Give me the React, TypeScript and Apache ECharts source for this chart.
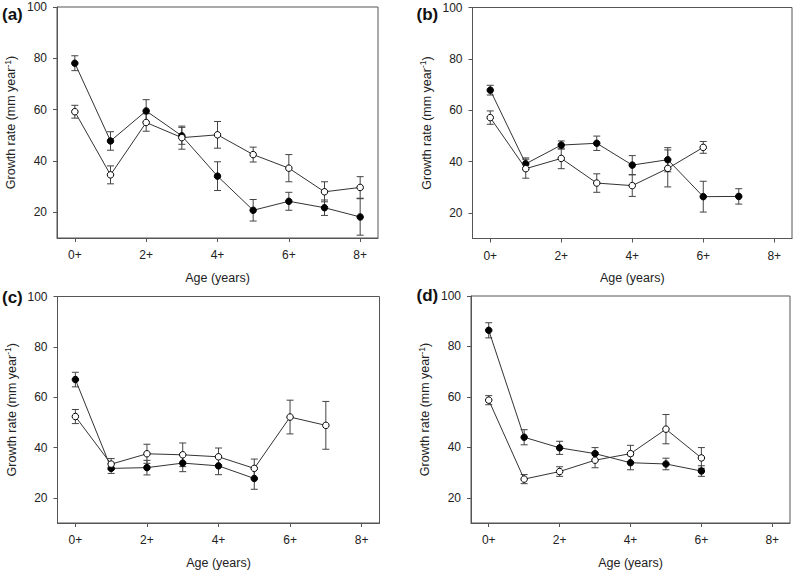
import React, { useEffect, useRef } from "react";
import * as echarts from "echarts";

const ages = ["0+", "1+", "2+", "3+", "4+", "5+", "6+", "7+", "8+"];
const yTicks = [20, 40, 60, 80, 100];
const panelLabels = ["(a)", "(b)", "(c)", "(d)"];

const aFilledMean = [78.1, 47.8, 59.5, 49.8, 34.1, 20.8, 24.3, 21.8, 18.2];
const aFilledErr = [2.9, 3.6, 4.4, 3.3, 5.6, 4.2, 3.5, 3.0, 7.1];
const aOpenMean = [59.2, 34.6, 55.0, 49.1, 50.2, 42.5, 37.2, 28.0, 29.7];
const aOpenErr = [2.5, 3.5, 3.4, 4.5, 5.2, 2.9, 5.3, 3.9, 4.2];

const bFilledMean = [67.8, 39.1, 46.4, 47.1, 38.6, 40.7, 26.3, 26.4];
const bFilledErr = [1.9, 2.3, 1.6, 2.8, 3.7, 4.7, 6.0, 3.0];
const bOpenMean = [57.1, 37.2, 41.2, 31.6, 30.6, 37.3, 45.5];
const bOpenErr = [2.6, 3.7, 4.0, 3.6, 4.2, 7.2, 2.3];

const cFilledMean = [67.0, 31.7, 32.0, 33.8, 32.7, 27.7];
const cFilledErr = [2.9, 2.0, 2.9, 3.4, 3.5, 4.3];
const cOpenMean = [52.3, 33.4, 37.5, 37.1, 36.3, 31.7, 52.1, 48.8];
const cOpenErr = [2.8, 2.2, 3.8, 4.7, 3.5, 3.7, 6.7, 9.5];

const dFilledMean = [86.4, 44.0, 39.8, 37.5, 33.9, 33.4, 30.6];
const dFilledErr = [3.0, 3.0, 2.6, 2.4, 2.8, 2.3, 2.1];
const dOpenMean = [58.7, 27.4, 30.4, 34.9, 37.5, 47.2, 35.8];
const dOpenErr = [1.8, 1.8, 1.9, 3.0, 3.3, 5.8, 4.1];

const panels = [
  { filled: aFilledMean, filledErr: aFilledErr, open: aOpenMean, openErr: aOpenErr },
  { filled: bFilledMean, filledErr: bFilledErr, open: bOpenMean, openErr: bOpenErr },
  { filled: cFilledMean, filledErr: cFilledErr, open: cOpenMean, openErr: cOpenErr },
  { filled: dFilledMean, filledErr: dFilledErr, open: dOpenMean, openErr: dOpenErr },
];

const grids = [
  { left: 57, top: 7, width: 321, height: 231 },
  { left: 472.5, top: 7.5, width: 319.5, height: 231 },
  { left: 57.5, top: 296.5, width: 322, height: 232.5 },
  { left: 471, top: 296, width: 319, height: 230 },
];
const labelPos = [
  { x: 2, y: 14 },
  { x: 416.5, y: 14 },
  { x: 2, y: 297 },
  { x: 416.5, y: 295 },
];

const FONT = "'Liberation Sans', Arial, sans-serif";
const AXIS = "#555";
const TEXT = "#222";

function errRender(params: any, api: any) {
  const x = api.value(0);
  const lo = api.value(1);
  const hi = api.value(2);
  const pLo = api.coord([x, lo]);
  const pHi = api.coord([x, hi]);
  const w = 3.5;
  const style = { stroke: "#444", lineWidth: 1 };
  return {
    type: "group",
    children: [
      { type: "line", shape: { x1: pHi[0], y1: pHi[1], x2: pLo[0], y2: pLo[1] }, style },
      { type: "line", shape: { x1: pHi[0] - w, y1: pHi[1], x2: pHi[0] + w, y2: pHi[1] }, style },
      { type: "line", shape: { x1: pLo[0] - w, y1: pLo[1], x2: pLo[0] + w, y2: pLo[1] }, style },
    ],
  };
}

export default function App() {
  const ref = useRef<HTMLDivElement>(null);
  useEffect(() => {
    if (!ref.current) return;
    const chart = echarts.init(ref.current, null, { renderer: "svg" });
    const series: any[] = [];
    panels.forEach((p, i) => {
      const mk = (mean: number[], err: number[]) =>
        mean.map((m, k) => [k, m - err[k], m + err[k]]);
      series.push({
        type: "custom",
        xAxisIndex: i,
        yAxisIndex: i,
        renderItem: errRender,
        data: mk(p.filled, p.filledErr),
        encode: { x: 0, y: [1, 2] },
        z: 1,
        silent: true,
      });
      series.push({
        type: "custom",
        xAxisIndex: i,
        yAxisIndex: i,
        renderItem: errRender,
        data: mk(p.open, p.openErr),
        encode: { x: 0, y: [1, 2] },
        z: 1,
        silent: true,
      });
      series.push({
        type: "line",
        xAxisIndex: i,
        yAxisIndex: i,
        data: p.filled,
        symbol: "circle",
        symbolSize: 6.5,
        lineStyle: { color: "#333", width: 1 },
        itemStyle: { color: "#000", borderColor: "#000", borderWidth: 1 },
        z: 3,
      });
      series.push({
        type: "line",
        xAxisIndex: i,
        yAxisIndex: i,
        data: p.open,
        symbol: "circle",
        symbolSize: 6.5,
        lineStyle: { color: "#333", width: 1 },
        itemStyle: { color: "#fff", borderColor: "#000", borderWidth: 1 },
        z: 4,
      });
    });

    const option: any = {
      animation: false,
      textStyle: { fontFamily: FONT },
      grid: grids.map((g) => ({
        ...g,
        show: true,
        borderColor: AXIS,
        borderWidth: 1,
        backgroundColor: "transparent",
      })),
      xAxis: grids.map((_, i) => ({
        type: "category",
        gridIndex: i,
        data: ages,
        boundaryGap: true,
        name: "Age (years)",
        nameLocation: "middle",
        nameGap: 33,
        nameTextStyle: { fontSize: 12.5, color: TEXT, fontFamily: FONT },
        axisLine: { lineStyle: { color: AXIS } },
        axisTick: { show: true, interval: 1, alignWithLabel: true, length: 4, lineStyle: { color: AXIS } },
        axisLabel: { interval: 1, fontSize: 12, color: TEXT, margin: 11, fontFamily: FONT },
        splitLine: { show: false },
      })),
      yAxis: grids.map((_, i) => ({
        type: "value",
        gridIndex: i,
        min: 10,
        max: 100,
        interval: 10,
        name: "{a|Growth rate (mm year}{s|-1}{a|)}",
        nameLocation: "middle",
        nameGap: 38,
        nameTextStyle: {
          color: TEXT,
          fontFamily: FONT,
          rich: {
            a: { fontSize: 12.5, color: TEXT, fontFamily: FONT, lineHeight: 16 },
            s: { fontSize: 8.5, color: TEXT, fontFamily: FONT, verticalAlign: "top", lineHeight: 16 },
          },
        },
        axisLine: { show: true, lineStyle: { color: AXIS } },
        axisTick: { show: true, length: 4, customValues: yTicks, lineStyle: { color: AXIS } },
        axisLabel: { fontSize: 12, color: TEXT, margin: 10, customValues: yTicks, fontFamily: FONT },
        splitLine: { show: false },
      })),
      graphic: panelLabels.map((t, i) => ({
        type: "text",
        x: labelPos[i].x,
        y: labelPos[i].y,
        style: {
          text: t,
          font: `bold 17px ${FONT}`,
          fill: "#111",
          textVerticalAlign: "middle",
          verticalAlign: "middle",
        },
      })),
      series,
    };
    chart.setOption(option);
    return () => chart.dispose();
  }, []);
  return (
    <div
      ref={ref}
      style={{ position: "fixed", left: 0, top: 0, width: 793, height: 570, background: "#fff" }}
    />
  );
}
